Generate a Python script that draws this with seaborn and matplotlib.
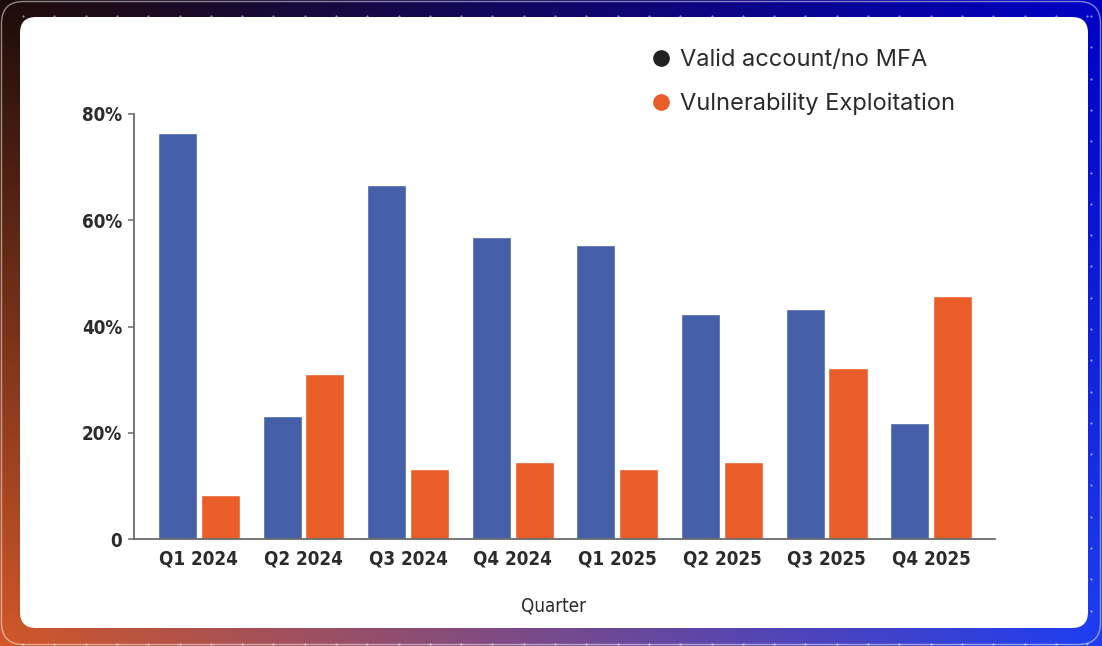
import numpy as np
import pandas as pd
import matplotlib
matplotlib.use("Agg")
import matplotlib.pyplot as plt
from matplotlib import font_manager
from matplotlib.patches import FancyBboxPatch
from matplotlib.lines import Line2D
import seaborn as sns

# ---- data -------------------------------------------------------------
quarters = ["Q1 2024", "Q2 2024", "Q3 2024", "Q4 2024",
            "Q1 2025", "Q2 2025", "Q3 2025", "Q4 2025"]
series_names = ["Valid account/no MFA", "Vulnerability Exploitation"]
valid_account = [76.4, 23.1, 66.7, 56.9, 55.4, 42.4, 43.4, 21.8]
vuln_exploit = [8.3, 31.0, 13.3, 14.6, 13.3, 14.6, 32.3, 45.8]
ytick_values = [0, 20, 40, 60, 80]
ytick_labels = ["0", "20%", "40%", "60%", "80%"]

BLUE = "#4560A9"
ORANGE = "#E95E28"
INK = "#2b2b2b"

df = pd.DataFrame({
    "Quarter": quarters * 2,
    "Series": [series_names[0]] * len(quarters) + [series_names[1]] * len(quarters),
    "Share": valid_account + vuln_exploit,
})

sns.set_theme(style="white")
plt.rcParams["font.family"] = ["Inter", "DejaVu Sans"]


def find_narrow(bold):
    """Return the file of an installed condensed/narrow face, or None."""
    for f in font_manager.fontManager.ttflist:
        tag = (f.name + " " + str(f.stretch) + " " + f.fname).lower()
        if "condensed" in tag or "narrow" in tag:
            is_bold = "bold" in f.fname.lower() or f.weight in ("bold", 700)
            if is_bold == bold and "oblique" not in f.fname.lower() and "italic" not in f.fname.lower():
                return f.fname
    return None


narrow_bold = find_narrow(True)
narrow_reg = find_narrow(False) or narrow_bold
if narrow_bold is not None:
    tick_font = font_manager.FontProperties(fname=narrow_bold, size=13.5)
    xlab_font = font_manager.FontProperties(fname=narrow_reg, size=13.5)
else:
    tick_font = font_manager.FontProperties(family="DejaVu Sans", weight="bold", size=11.5)
    xlab_font = font_manager.FontProperties(family="DejaVu Sans", size=12)

W, H = 1102, 646
fig = plt.figure(figsize=(W / 100, H / 100), dpi=100)

# ---- gradient backdrop --------------------------------------------------
bg = fig.add_axes([0, 0, 1, 1], zorder=0)
bg.set_xlim(0, W)
bg.set_ylim(H, 0)
bg.axis("off")
tl = np.array([0x1E, 0x0C, 0x08]) / 255
tr = np.array([0x00, 0x00, 0xC4]) / 255
bl = np.array([0xD2, 0x58, 0x28]) / 255
br = np.array([0x1E, 0x3E, 0xF2]) / 255
u = np.linspace(0, 1, 300)[None, :, None]
v = np.linspace(0, 1, 180)[:, None, None]
grad = (1 - v) * ((1 - u) * tl + u * tr) + v * ((1 - u) * bl + u * br)
bg.imshow(grad, extent=(0, W, H, 0), aspect="auto", interpolation="bilinear")

# thin outer frame
bg.add_patch(FancyBboxPatch((1.5, 1.5), W - 3, H - 3,
                            boxstyle="round,pad=0,rounding_size=22",
                            fill=False, ec=(1, 1, 1, 0.5), lw=1.0))
# dotted guides along top, bottom and right
xs = np.arange(23, W - 10, 31.3)
bg.scatter(xs, np.full_like(xs, 15.5), s=2.5, c="white", alpha=0.55, lw=0)
bg.scatter(xs, np.full_like(xs, 643.5), s=2.5, c="white", alpha=0.55, lw=0)
ys = np.arange(16, H - 5, 31.3)
bg.scatter(np.full_like(ys, 1090.5), ys, s=2.5, c="white", alpha=0.55, lw=0)

# white card
bg.add_patch(FancyBboxPatch((20, 17), 1068, 611,
                            boxstyle="round,pad=0,rounding_size=16",
                            fc="white", ec="none"))

# ---- bar chart ----------------------------------------------------------
ax = fig.add_axes([134 / W, 1 - 539.3 / H, (995 - 134) / W, (539.3 - 114) / H], zorder=2)
ax.patch.set_alpha(0)
sns.barplot(data=df, x="Quarter", y="Share", hue="Series",
            order=quarters, hue_order=series_names,
            palette=[BLUE, ORANGE], width=0.82, gap=0.09,
            legend=False, ax=ax, saturation=1)

ax.set_xlim(-0.62, 7.61)
ax.set_ylim(0, 80)
ax.set_yticks(ytick_values)
ax.set_yticklabels(ytick_labels)
for s in ("top", "right"):
    ax.spines[s].set_visible(False)
for s in ("left", "bottom"):
    ax.spines[s].set_color("#6b6b6b")
    ax.spines[s].set_linewidth(1.3)
ax.tick_params(axis="y", left=True, length=4.5, width=1.1, color="#6b6b6b", pad=4)
ax.tick_params(axis="x", bottom=False, length=0, pad=7)
for lab in ax.get_yticklabels() + ax.get_xticklabels():
    lab.set_fontproperties(tick_font)
    lab.set_color(INK)
ax.set_ylabel("")
ax.set_xlabel("Quarter", fontproperties=xlab_font, color=INK)
ax.xaxis.set_label_coords((554 - 134) / (995 - 134), -0.135)

# legend with round markers
handles = [
    Line2D([], [], marker="o", ls="none", markersize=11, color="#222222"),
    Line2D([], [], marker="o", ls="none", markersize=11, color=ORANGE),
]
fig.legend(handles, series_names, loc="upper left",
           bbox_to_anchor=(640 / W, 1 - 40 / H), frameon=False,
           fontsize=17, handletextpad=0.3, labelspacing=0.9,
           handlelength=1.0, labelcolor=INK, borderaxespad=0)

fig.savefig("out.png", dpi=100)
